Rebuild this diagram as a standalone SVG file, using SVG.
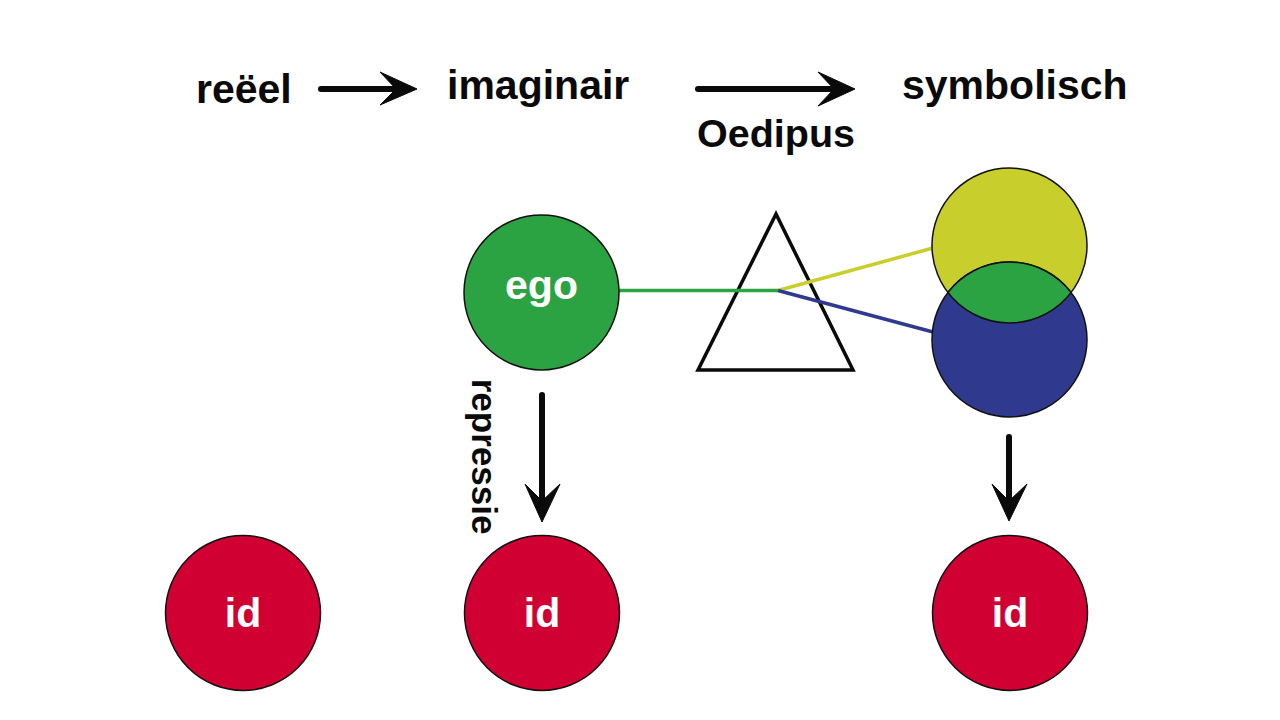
<svg xmlns="http://www.w3.org/2000/svg" width="1280" height="720" viewBox="0 0 1280 720">
  <style>
    .lbl { font-family: "Liberation Sans", Arial, sans-serif; font-weight: bold; font-size: 41px; fill: #0a0a0a; }
    .in { font-family: "Liberation Sans", Arial, sans-serif; font-weight: bold; font-size: 41px; fill: #fff; text-anchor: middle; }
    .node { stroke: #111; stroke-width: 1.5; }
    .shaft { stroke: #0a0a0a; stroke-width: 6; stroke-linecap: round; fill: none; }
    .head { fill: #0a0a0a; stroke: #0a0a0a; stroke-width: 1; stroke-linejoin: round; }
    .ray { stroke-width: 3.5; fill: none; }
  </style>
  <rect width="1280" height="720" fill="#ffffff"/>

  <g id="label-reeel"><text class="lbl" x="196" y="103">reëel</text></g>
  <g id="label-imaginair"><text class="lbl" x="447" y="99">imaginair</text></g>
  <g id="label-symbolisch"><text class="lbl" x="902" y="99">symbolisch</text></g>
  <g id="label-oedipus"><text class="lbl" x="776" y="147" text-anchor="middle" style="font-size:39.5px">Oedipus</text></g>
  <g id="label-repressie"><text class="lbl" transform="translate(472,456.5) rotate(90)" text-anchor="middle" style="font-size:35px">repressie</text></g>

  <g id="connectors">
    <line class="shaft" x1="321" y1="89" x2="400" y2="89"/>
    <path class="head" d="M417,89 L380,72 L396,89 L380,105 Z"/>
    <line class="shaft" x1="698" y1="89" x2="838" y2="89"/>
    <path class="head" d="M855,89 L818,72 L834,89 L818,106 Z"/>
    <line class="shaft" x1="542" y1="395" x2="542" y2="505"/>
    <path class="head" d="M542,522 L525,484 L542,501 L560,484 Z"/>
    <line class="shaft" x1="1009" y1="437" x2="1009" y2="505"/>
    <path class="head" d="M1009,521 L992,484 L1009,501 L1027,484 Z"/>
  </g>

  <g id="prism">
    <polygon points="776,214 698,370 853,370" fill="none" stroke="#0a0a0a" stroke-width="3.5" stroke-linejoin="miter"/>
  </g>

  <g id="rays">
    <line class="ray" x1="619" y1="290.5" x2="778" y2="290.5" stroke="#2ca343"/>
    <line class="ray" x1="778" y1="290.5" x2="933" y2="248" stroke="#c8ce2b"/>
    <line class="ray" x1="778" y1="290.5" x2="933" y2="332" stroke="#2f3a8f"/>
  </g>

  <g id="ego">
    <circle class="node" cx="541.5" cy="292.5" r="77.5" fill="#2ca343"/>
    <text class="in" x="541.5" y="299">ego</text>
  </g>

  <g id="symbolic-circles">
    <circle class="node" cx="1009.5" cy="245.5" r="77.5" fill="#c8ce2b"/>
    <circle class="node" cx="1009.5" cy="339.5" r="77.5" fill="#2f3a8f"/>
    <path class="node" d="M947.9,292.5 A77.5,77.5 0 0 1 1071.1,292.5 A77.5,77.5 0 0 1 947.9,292.5 Z" fill="#2ca343"/>
  </g>

  <g id="id-reeel">
    <circle class="node" cx="243" cy="613" r="77.5" fill="#d10032"/>
    <text class="in" x="243" y="627">id</text>
  </g>
  <g id="id-imaginair">
    <circle class="node" cx="542" cy="613" r="77.5" fill="#d10032"/>
    <text class="in" x="542" y="627">id</text>
  </g>
  <g id="id-symbolisch">
    <circle class="node" cx="1010" cy="613" r="77.5" fill="#d10032"/>
    <text class="in" x="1010" y="627">id</text>
  </g>
</svg>
